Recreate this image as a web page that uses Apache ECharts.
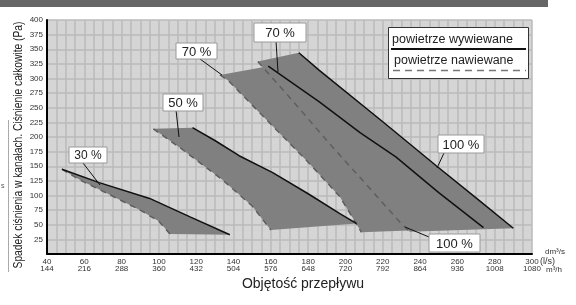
<!DOCTYPE html>
<html>
<head>
<meta charset="utf-8">
<script src="https://cdn.jsdelivr.net/npm/echarts@6/dist/echarts.min.js"></script>
<style>
html, body { margin: 0; padding: 0; background: #fff; }
#main { width: 576px; height: 305px; }
</style>
</head>
<body>
<div id="main"></div>
<script>
// tick labels: l/s (dm3/s) and m3/h
var flowLs = [40, 60, 80, 100, 120, 140, 160, 180, 200, 220, 240, 260, 280, 300];
var flowM3h = [144, 216, 288, 360, 432, 504, 576, 648, 720, 792, 864, 936, 1008, 1080];

// wywiewane (solid) / nawiewane (dashed) for each damper opening
var wyw30 = [[48, 145], [68, 122], [95, 95], [117, 63], [138, 33]];
var naw30 = [[48, 145], [58, 126], [72, 104], [90, 75], [100, 56], [106, 34]];

var wyw50 = [[118, 216], [130, 194], [143, 168], [161, 139], [180, 103], [197, 69], [206, 52]];
var naw50 = [[97, 214], [112, 180], [134, 127], [150, 82], [160, 41]];

var wyw70 = [[158.6, 321], [186, 260], [208, 207], [227, 166], [250, 105], [274, 45]];
var naw70 = [[132.7, 306], [137, 297], [160, 222], [180, 157], [197, 98], [208.6, 37]];

var wyw100 = [[175, 344], [186, 314], [220, 226], [249, 150], [270, 96], [290, 44]];
var naw100 = [[153, 329], [170, 268], [193, 183], [212, 116], [229, 55], [234.5, 38]];

var bands = [
	{ name: '30 %', wyw: wyw30, naw: naw30 },
	{ name: '50 %', wyw: wyw50, naw: naw50 },
	{ name: '70 %', wyw: wyw70, naw: naw70 },
	{ name: '100 %', wyw: wyw100, naw: naw100 }
];

var font = 'Liberation Sans';
var myChart = echarts.init(document.getElementById('main'), null, { renderer: 'canvas' });

var series = [];
// szare pola
bands.forEach(function(b) {
	var pts = b.naw.concat(b.wyw.slice().reverse());
	series.push({
		type: 'custom',
		name: b.name,
		silent: true,
		z: 1,
		data: [b.naw[0]],
		renderItem: function(params, api) {
			return {
				type: 'polygon',
				shape: { points: pts.map(function(p) { return api.coord(p); }) },
				style: { fill: '#808080' }
			};
		}
	});
});
// linie
bands.forEach(function(b) {
	series.push({
		type: 'line',
		data: b.naw,
		symbol: 'none',
		z: 3,
		lineStyle: { color: '#5e5e5e', width: 1.5, type: [6, 5] }
	});
	series.push({
		type: 'line',
		data: b.wyw,
		symbol: 'none',
		z: 4,
		lineStyle: { color: '#111', width: 1.5 }
	});
});

function labelBox(x, y, w, h, text, size, lx1, ly1, lx2, ly2) {
	return [
		{ type: 'line', z: 50, shape: { x1: lx1, y1: ly1, x2: lx2, y2: ly2 }, style: { stroke: '#111', lineWidth: 1 } },
		{ type: 'rect', z: 51, shape: { x: x, y: y, width: w, height: h }, style: { fill: '#fff', stroke: '#999', lineWidth: 1 } },
		{ type: 'text', z: 52, x: x + w / 2, y: y + h / 2 + 1, style: { text: text, fontFamily: font, fontSize: size, fill: '#222', align: 'center', verticalAlign: 'middle' } }
	];
}

var graphics = [
	{ type: 'rect', shape: { x: 0, y: 0, width: 548, height: 7 }, style: { fill: '#666' } },
	{ type: 'line', shape: { x1: 8.5, y1: 120, x2: 8.5, y2: 272 }, style: { stroke: '#aaa', lineWidth: 1 } },
	{ type: 'text', x: 1, y: 183, style: { text: 's', fontFamily: font, fontSize: 7, fill: '#555' } },
	{ type: 'text', x: 18, y: 145, rotation: Math.PI / 2, scaleX: 0.76, style: { text: 'Spadek ciśnienia w kanałach. Ciśnienie całkowite (Pa)', fontFamily: font, fontSize: 13.5, fill: '#222', align: 'center', verticalAlign: 'middle' } },
	{ type: 'text', x: 303, y: 284, style: { text: 'Objętość przepływu', fontFamily: font, fontSize: 14, fill: '#222', align: 'center', verticalAlign: 'middle' } },
	{ type: 'text', x: 545, y: 252, style: { text: 'dm³/s', fontFamily: font, fontSize: 8, fill: '#333', verticalAlign: 'middle' } },
	{ type: 'text', x: 540, y: 262, style: { text: '(l/s)', fontFamily: font, fontSize: 9, fill: '#333', verticalAlign: 'middle' } },
	{ type: 'text', x: 546, y: 270, style: { text: 'm³/h', fontFamily: font, fontSize: 8, fill: '#333', verticalAlign: 'middle' } },
	// legenda
	{ type: 'rect', z: 60, shape: { x: 388.5, y: 27.5, width: 140, height: 51 }, style: { fill: '#fff', stroke: '#333', lineWidth: 1 } },
	{ type: 'text', z: 61, x: 392, y: 40, style: { text: 'powietrze wywiewane', fontFamily: font, fontSize: 12.5, fill: '#222', verticalAlign: 'middle' } },
	{ type: 'line', z: 61, shape: { x1: 391, y1: 49, x2: 526, y2: 49 }, style: { stroke: '#111', lineWidth: 2 } },
	{ type: 'text', z: 61, x: 394, y: 61, style: { text: 'powietrze nawiewane', fontFamily: font, fontSize: 12.5, fill: '#222', verticalAlign: 'middle' } },
	{ type: 'line', z: 61, shape: { x1: 393, y1: 70.5, x2: 526, y2: 70.5 }, style: { stroke: '#777', lineWidth: 1.5, lineDash: [7, 5] } }
];
graphics = graphics
	.concat(labelBox(69, 147, 38, 16, '30 %', 12, 83, 163, 100, 185))
	.concat(labelBox(163, 94, 40, 17, '50 %', 13, 176, 110, 179, 137))
	.concat(labelBox(176, 43, 41, 16, '70 %', 13, 200, 59, 222, 75))
	.concat(labelBox(254, 23, 52, 19, '70 %', 13, 276, 41, 278, 72))
	.concat(labelBox(438, 135, 46, 18, '100 %', 13, 444, 153, 437, 168))
	.concat(labelBox(429, 234, 51, 18, '100 %', 13, 429, 237, 405, 227));

option = {
	animation: false,
	grid: {
		left: 47, right: 44, top: 20, bottom: 51,
		show: true, backgroundColor: '#d5d5d5', borderWidth: 0
	},
	xAxis: {
		type: 'value',
		min: 40, max: 300, interval: 5,
		axisLine: { show: true, lineStyle: { color: '#000', width: 2 } },
		axisTick: { show: false },
		splitLine: { show: true, lineStyle: { color: '#bababa', width: 1.5 } },
		axisLabel: {
			margin: 4,
			formatter: function(v) {
				var i = flowLs.indexOf(v);
				if (i < 0) return '';
				return '{a|' + flowLs[i] + '}\n{b|' + flowM3h[i] + '}';
			},
			rich: {
				a: { fontFamily: font, fontSize: 8, lineHeight: 7, color: '#333' },
				b: { fontFamily: font, fontSize: 8, lineHeight: 7, color: '#333' }
			}
		}
	},
	yAxis: {
		type: 'value',
		min: 0, max: 400, interval: 25,
		axisLine: { show: true, lineStyle: { color: '#000', width: 2 } },
		axisTick: { show: false },
		splitLine: { show: true, lineStyle: { color: '#bababa', width: 1.5 } },
		axisLabel: {
			margin: 4,
			fontFamily: font, fontSize: 8, color: '#333',
			formatter: function(v) { return v === 0 ? '' : v; }
		}
	},
	graphic: graphics,
	series: series
};
myChart.setOption(option);
</script>
</body>
</html>
